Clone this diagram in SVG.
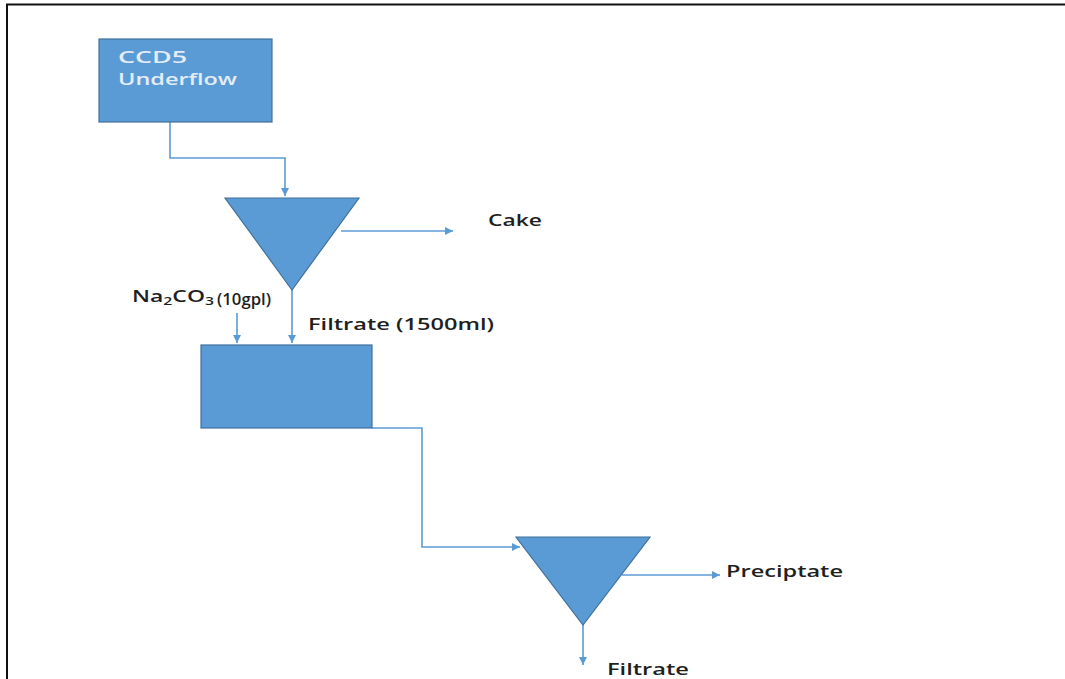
<svg xmlns="http://www.w3.org/2000/svg" width="1065" height="679" viewBox="0 0 1065 679">
<style>
.n{fill:#5b9bd5;stroke:#41719c;stroke-width:1.2}
.c{fill:none;stroke:#5b9bd5;stroke-width:1.6}
.t{font-family:"Open Sans","Liberation Sans",sans-serif;font-size:16px;font-weight:600;fill:#1f1f1f}
.w{font-family:"Open Sans","Liberation Sans",sans-serif;font-size:16px;font-weight:600;fill:#e4ecf7}
</style>
<defs>
<marker id="a" viewBox="0 0 10 10" refX="10" refY="5" markerWidth="5" markerHeight="5" orient="auto" markerUnits="strokeWidth">
<path d="M0,0 L10,5 L0,10 z" fill="#5b9bd5"/>
</marker>
</defs>
<rect width="1065" height="679" fill="#fff"/>
<path d="M7,679 V4.5 H1065" fill="none" stroke="#111" stroke-width="2"/>
<g id="connectors">
<path class="c" d="M170,122 V158 H285 V196" marker-end="url(#a)"/>
<path class="c" d="M341,231 H453" marker-end="url(#a)"/>
<path class="c" d="M292,290 V343" marker-end="url(#a)"/>
<path class="c" d="M237,313 V343" marker-end="url(#a)"/>
<path class="c" d="M372,428 H422 V547 H520" marker-end="url(#a)"/>
<path class="c" d="M622,575 H720" marker-end="url(#a)"/>
<path class="c" d="M583,625 V665" marker-end="url(#a)"/>
</g>
<g id="ccd5">
<rect class="n" x="99" y="39" width="173" height="83"/>
<text class="w" x="118" y="63" textLength="69" lengthAdjust="spacingAndGlyphs">CCD5</text>
<text class="w" x="118" y="85" textLength="119" lengthAdjust="spacingAndGlyphs">Underflow</text>
</g>
<g id="filter1">
<path class="n" d="M225,198 H359 L292,290 z"/>
</g>
<g id="cake"><text class="t" x="488" y="226" textLength="54" lengthAdjust="spacingAndGlyphs">Cake</text></g>
<g id="na2co3"><text class="t" x="132" y="302" textLength="82" lengthAdjust="spacingAndGlyphs">Na<tspan font-size="11" dy="3">2</tspan><tspan dy="-3">CO</tspan><tspan font-size="11" dy="3">3</tspan></text><text class="t" x="217" y="305" font-size="10" textLength="54" lengthAdjust="spacingAndGlyphs">(10gpl)</text></g>
<g id="filtrate1"><text class="t" x="308" y="330" textLength="186" lengthAdjust="spacingAndGlyphs">Filtrate (1500ml)</text></g>
<g id="tank">
<rect class="n" x="201" y="345" width="171" height="83"/>
</g>
<g id="filter2">
<path class="n" d="M516,537 H650 L583,625 z"/>
</g>
<g id="precipitate"><text class="t" x="726" y="577" textLength="117" lengthAdjust="spacingAndGlyphs">Preciptate</text></g>
<g id="filtrate2"><text class="t" x="607" y="675" textLength="82" lengthAdjust="spacingAndGlyphs">Filtrate</text></g>
</svg>
